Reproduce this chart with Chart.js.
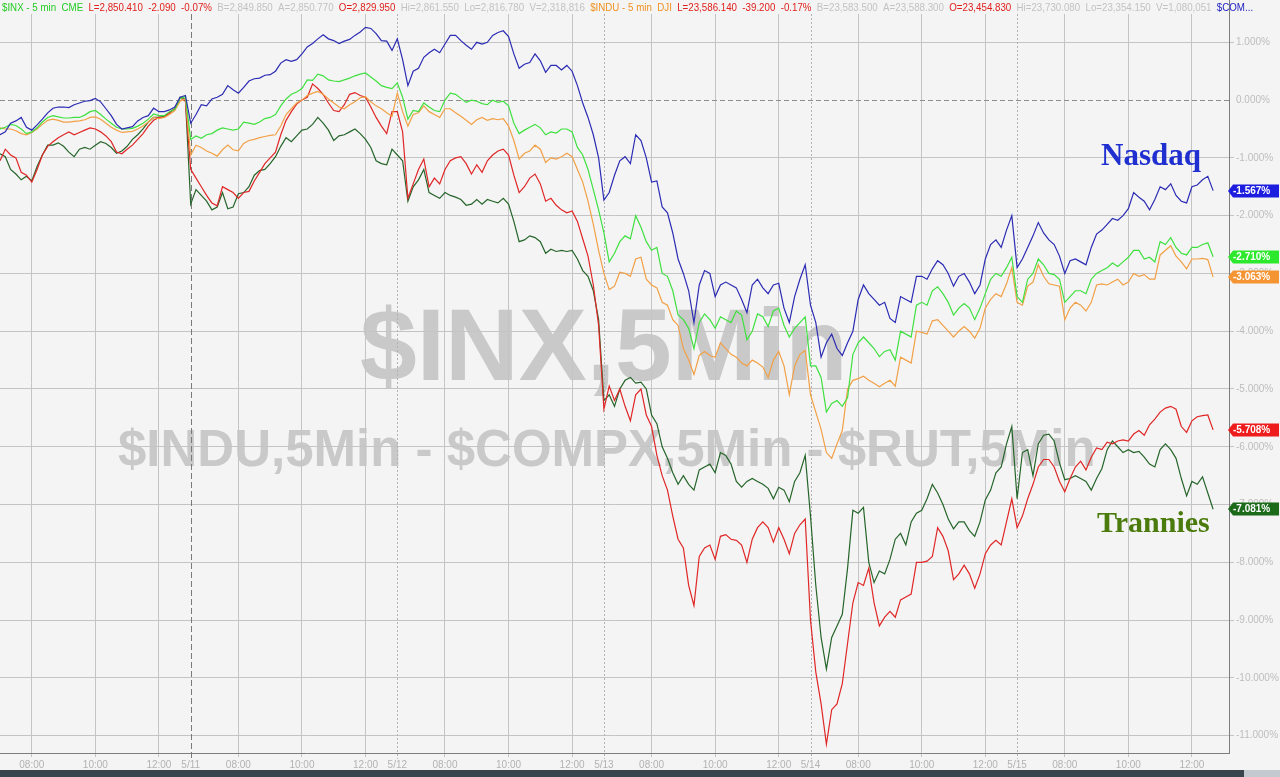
<!DOCTYPE html>
<html>
<head>
<meta charset="utf-8">
<script src="https://cdn.jsdelivr.net/npm/chart.js"></script>
<style>
body{margin:0;background:#f4f4f4;}
#wrap{position:relative;width:1280px;height:777px;overflow:hidden;background:#f4f4f4;font-family:"Liberation Sans",Arial,sans-serif;}
.wm{position:absolute;font-weight:bold;color:#c9c9c9;line-height:1;white-space:nowrap;z-index:0;}
#c{position:absolute;left:0;top:0;z-index:1;}
#hdr{position:absolute;left:2px;top:1px;font-size:11px;white-space:nowrap;z-index:2;transform:scaleX(0.885);transform-origin:0 0;font-family:"Liberation Sans Narrow","Liberation Sans",Arial,sans-serif;}
#hdr span{margin-right:6px}
.g{color:#c2c2c2}.r{color:#e0201c}.gr{color:#22cc22}.o{color:#f0901e}.b{color:#1c1cc0}
.note{position:absolute;font-family:"Liberation Serif","Times New Roman",serif;font-weight:bold;line-height:1;z-index:2;white-space:nowrap;}
#scroll{position:absolute;left:0;top:770px;width:1280px;height:7px;background:#39444d;z-index:2}
#thumb{position:absolute;left:1244px;top:0;width:36px;height:7px;background:#c3c9cf}
</style>
</head>
<body>
<div id="wrap">
  <div class="wm" style="left:360px;top:294px;font-size:102px;">$INX,5Min</div>
  <div class="wm" style="left:118px;top:423px;font-size:51px;">$INDU,5Min - $COMPX,5Min - $RUT,5Min</div>
  <canvas id="c" width="1280" height="777"></canvas>
  <div id="hdr"><span class="gr">$INX - 5 min&nbsp; CME</span><span class="r">L=2,850.410</span><span class="r">-2.090</span><span class="r">-0.07%</span><span class="g">B=2,849.850</span><span class="g">A=2,850.770</span><span class="r">O=2,829.950</span><span class="g">Hi=2,861.550</span><span class="g">Lo=2,816.780</span><span class="g">V=2,318,816</span><span class="o">$INDU - 5 min&nbsp; DJI</span><span class="r">L=23,586.140</span><span class="r">-39.200</span><span class="r">-0.17%</span><span class="g">B=23,583.500</span><span class="g">A=23,588.300</span><span class="r">O=23,454.830</span><span class="g">Hi=23,730.080</span><span class="g">Lo=23,354.150</span><span class="g">V=1,080,051</span><span class="b">$COM...</span></div>
  <div class="note" style="left:1101px;top:139px;font-size:31px;color:#1f2fd0;">Nasdaq</div>
  <div class="note" style="left:1097px;top:507px;font-size:30px;color:#4b7b0c;">Trannies</div>
  <div id="scroll"><div id="thumb"></div></div>
</div>
<script>
// 10 minute bars, Pacific time session
var times = ['06:30','06:40','06:50','07:00','07:10','07:20','07:30','07:40','07:50',
  '08:00','08:10','08:20','08:30','08:40','08:50','09:00','09:10','09:20','09:30','09:40','09:50',
  '10:00','10:10','10:20','10:30','10:40','10:50','11:00','11:10','11:20','11:30','11:40','11:50',
  '12:00','12:10','12:20','12:30','12:40','12:50'];
var days = ['5/8','5/11','5/12','5/13','5/14','5/15'];
var lateTimes = ['13:00','13:10'];
var tickTimes = ['08:00','10:00','12:00'];

// % change, Nasdaq ($COMPX)
var compx = [-0.6,-0.55,-0.4,-0.36,-0.3,-0.47,-0.52,-0.43,-0.33,-0.22,-0.14,-0.12,-0.12,-0.13,-0.08,-0.05,-0.02,-0.01,0.03,-0.03,-0.15,-0.27,-0.42,-0.5,-0.48,-0.46,-0.36,-0.3,-0.27,-0.14,-0.2,-0.2,-0.17,-0.12,0.05,0.08,
  -0.4,-0.25,-0.08,-0.1,0.02,0.05,0.1,0.25,0.18,0.12,0.22,0.33,0.37,0.38,0.43,0.44,0.5,0.64,0.7,0.67,0.7,0.8,0.92,0.98,1.06,1.13,1.06,1.03,0.98,1.02,1.05,1.12,1.18,1.26,1.24,1.15,1.03,1.02,0.86,
  1.06,0.7,0.25,0.5,0.55,0.74,0.82,0.88,0.82,0.97,1.12,1.12,1.03,0.95,0.88,1.0,0.97,1.0,1.12,1.17,1.2,1.1,0.8,0.55,0.62,0.65,0.8,0.68,0.48,0.6,0.6,0.52,0.6,0.5,0.25,-0.05,-0.3,-0.6,-1.0,
  -1.73,-1.6,-1.3,-1.05,-0.98,-1.1,-0.6,-0.7,-1.0,-1.42,-1.4,-1.85,-1.95,-2.3,-2.75,-3.0,-3.3,-3.85,-3.2,-2.95,-3.0,-3.4,-3.2,-3.15,-3.2,-3.25,-3.45,-3.68,-3.2,-3.1,-3.25,-3.35,-3.2,-3.17,-3.6,-3.85,-3.4,-3.1,-2.85,
  -3.55,-3.85,-4.45,-4.2,-4.05,-4.3,-4.42,-4.2,-4.0,-3.45,-3.2,-3.35,-3.45,-3.55,-3.5,-3.78,-3.85,-3.4,-3.45,-3.5,-3.05,-3.05,-3.1,-2.92,-2.78,-2.85,-3.0,-3.22,-3.05,-3.0,-3.15,-3.35,-3.2,-2.75,-2.5,-2.42,-2.55,-2.25,-2.0,
  -2.9,-2.75,-2.55,-2.35,-2.12,-2.3,-2.42,-2.5,-2.7,-3.0,-2.78,-2.75,-2.8,-2.85,-2.55,-2.32,-2.25,-2.15,-2.05,-2.08,-2.0,-1.88,-1.6,-1.68,-1.75,-1.9,-1.72,-1.5,-1.55,-1.45,-1.65,-1.75,-1.78,-1.5,-1.47,-1.38,-1.32,-1.567];

// S&P 500 ($INX)
var inx = [-0.5,-0.47,-0.42,-0.44,-0.5,-0.58,-0.55,-0.48,-0.38,-0.3,-0.27,-0.29,-0.31,-0.31,-0.3,-0.3,-0.26,-0.2,-0.18,-0.25,-0.33,-0.4,-0.47,-0.5,-0.5,-0.49,-0.45,-0.4,-0.33,-0.24,-0.27,-0.27,-0.2,-0.16,0.03,0.06,
  -0.68,-0.62,-0.66,-0.6,-0.58,-0.52,-0.48,-0.5,-0.52,-0.5,-0.38,-0.4,-0.42,-0.38,-0.32,-0.3,-0.25,-0.1,0.02,0.1,0.14,0.2,0.35,0.34,0.45,0.42,0.35,0.33,0.32,0.35,0.38,0.42,0.45,0.47,0.4,0.33,0.25,0.22,0.2,
  0.3,0.05,-0.33,-0.18,-0.2,-0.05,-0.12,-0.18,-0.2,0.0,0.12,0.1,0.03,-0.04,0.0,-0.02,-0.06,-0.08,0.0,-0.04,-0.02,-0.1,-0.4,-0.58,-0.52,-0.47,-0.42,-0.48,-0.6,-0.55,-0.57,-0.5,-0.5,-0.55,-0.82,-0.95,-1.2,-1.55,-1.9,
  -2.3,-2.8,-2.65,-2.45,-2.35,-2.4,-2.0,-2.2,-2.45,-2.6,-2.55,-3.0,-3.05,-3.3,-3.72,-3.8,-3.95,-4.3,-3.85,-3.7,-3.8,-3.95,-3.75,-3.8,-3.85,-3.65,-3.72,-4.15,-4.0,-3.7,-3.75,-3.92,-3.65,-3.6,-3.9,-4.1,-3.95,-3.85,-3.75,
  -4.6,-4.6,-4.8,-5.4,-5.25,-5.2,-5.3,-5.15,-4.4,-4.2,-4.1,-4.2,-4.3,-4.44,-4.35,-4.32,-4.5,-4.0,-4.05,-4.1,-3.55,-3.5,-3.55,-3.3,-3.23,-3.35,-3.5,-3.72,-3.6,-3.52,-3.6,-3.8,-3.6,-3.35,-3.1,-3.0,-3.05,-2.9,-2.72,
  -3.4,-3.5,-3.1,-3.0,-2.75,-2.85,-3.0,-3.02,-3.1,-3.5,-3.4,-3.3,-3.3,-3.35,-3.1,-3.0,-2.95,-2.9,-2.82,-2.88,-2.8,-2.72,-2.6,-2.6,-2.75,-2.72,-2.8,-2.45,-2.5,-2.38,-2.55,-2.65,-2.68,-2.55,-2.55,-2.5,-2.47,-2.71];

// Dow ($INDU)
var indu = [-0.48,-0.5,-0.5,-0.53,-0.58,-0.6,-0.56,-0.5,-0.42,-0.35,-0.33,-0.35,-0.38,-0.38,-0.37,-0.36,-0.34,-0.3,-0.29,-0.33,-0.4,-0.47,-0.52,-0.56,-0.55,-0.54,-0.5,-0.45,-0.38,-0.3,-0.32,-0.3,-0.25,-0.18,-0.02,0.03,
  -0.95,-0.78,-0.82,-0.88,-0.92,-0.97,-0.86,-0.78,-0.86,-0.88,-0.75,-0.7,-0.68,-0.65,-0.63,-0.61,-0.6,-0.45,-0.25,-0.15,-0.05,0.0,0.08,0.12,0.15,0.1,0.02,-0.05,-0.12,-0.15,-0.08,-0.03,0.04,0.06,-0.03,-0.1,-0.15,-0.22,-0.28,
  0.12,-0.2,-0.45,-0.25,-0.22,-0.1,-0.2,-0.25,-0.3,-0.15,-0.15,-0.22,-0.28,-0.35,-0.42,-0.34,-0.3,-0.35,-0.32,-0.34,-0.32,-0.45,-0.7,-1.02,-0.92,-0.88,-0.78,-0.85,-1.08,-1.0,-1.02,-0.98,-0.92,-0.98,-1.2,-1.42,-1.75,-2.15,-2.6,
  -3.0,-3.28,-3.22,-2.98,-3.0,-3.05,-2.75,-2.72,-3.1,-3.2,-3.25,-3.5,-3.55,-3.8,-3.9,-4.3,-4.5,-4.75,-4.42,-4.35,-4.42,-4.45,-4.2,-4.3,-4.4,-4.45,-4.55,-4.6,-4.5,-4.55,-4.62,-4.8,-4.5,-4.35,-4.6,-5.1,-4.6,-4.4,-4.33,
  -5.1,-5.4,-5.7,-6.1,-6.2,-5.95,-5.72,-5.0,-4.85,-4.82,-4.78,-4.85,-4.9,-4.96,-4.9,-4.85,-4.95,-4.45,-4.5,-4.55,-4.0,-4.02,-4.05,-3.82,-3.8,-3.9,-4.0,-4.1,-4.0,-3.92,-4.0,-4.12,-3.95,-3.6,-3.45,-3.35,-3.4,-3.18,-2.9,
  -3.5,-3.55,-3.22,-3.15,-2.85,-3.05,-3.18,-3.2,-3.22,-3.8,-3.6,-3.5,-3.55,-3.65,-3.5,-3.2,-3.18,-3.2,-3.15,-3.1,-3.2,-3.15,-3.0,-3.05,-3.02,-3.1,-3.1,-2.68,-2.6,-2.52,-2.7,-2.8,-2.92,-2.75,-2.75,-2.74,-2.76,-3.063];

// Russell 2000 ($RUT)
var rut = [-1.05,-0.85,-0.95,-1.0,-1.25,-1.3,-1.42,-1.2,-0.95,-0.8,-0.72,-0.65,-0.6,-0.55,-0.6,-0.56,-0.52,-0.48,-0.5,-0.55,-0.62,-0.72,-0.9,-0.93,-0.85,-0.78,-0.68,-0.58,-0.45,-0.35,-0.3,-0.3,-0.22,-0.15,0.04,-0.02,
  -1.2,-1.35,-1.5,-1.65,-1.78,-1.83,-1.5,-1.55,-1.6,-1.7,-1.6,-1.58,-1.4,-1.25,-1.1,-1.0,-0.9,-0.6,-0.35,-0.2,-0.07,0.0,0.05,0.28,0.2,0.1,-0.05,-0.18,-0.2,-0.08,0.1,0.13,0.08,0.05,-0.12,-0.3,-0.45,-0.58,-0.2,
  -0.2,-0.55,-1.7,-1.45,-1.2,-1.02,-1.5,-1.35,-1.45,-1.2,-1.05,-1.0,-0.98,-1.1,-1.28,-1.12,-1.25,-1.05,-0.95,-0.88,-0.85,-0.95,-1.3,-1.6,-1.5,-1.35,-1.28,-1.45,-1.75,-1.7,-1.82,-1.9,-1.95,-1.92,-2.1,-2.4,-2.7,-3.2,-3.9,
  -5.35,-4.95,-5.2,-5.0,-5.3,-5.55,-5.1,-5.0,-5.45,-5.65,-6.15,-6.5,-6.75,-7.2,-7.6,-7.75,-8.4,-8.75,-7.9,-7.75,-7.7,-7.95,-7.55,-7.52,-7.6,-7.62,-7.7,-8.0,-7.6,-7.4,-7.3,-7.4,-7.65,-7.4,-7.6,-7.85,-7.5,-7.35,-7.25,
  -9.0,-9.9,-10.45,-11.15,-10.55,-10.45,-10.1,-9.4,-8.7,-8.35,-8.4,-8.1,-8.7,-9.1,-8.95,-8.85,-8.95,-8.65,-8.6,-8.55,-8.0,-8.0,-7.98,-7.9,-7.4,-7.55,-7.8,-8.3,-8.2,-8.05,-8.2,-8.45,-8.2,-7.85,-7.7,-7.62,-7.7,-7.3,-6.9,
  -7.4,-7.2,-6.9,-6.65,-6.35,-6.22,-6.22,-6.35,-6.6,-6.78,-6.55,-6.35,-6.25,-6.4,-6.18,-6.02,-6.05,-5.92,-5.95,-5.9,-5.88,-5.9,-5.78,-5.72,-5.8,-5.62,-5.52,-5.4,-5.33,-5.3,-5.35,-5.65,-5.75,-5.55,-5.48,-5.46,-5.45,-5.708];

// Transports ($TRAN)
var tran = [-0.93,-0.98,-1.2,-1.28,-1.38,-1.32,-1.4,-1.15,-0.95,-0.78,-0.78,-0.74,-0.8,-0.9,-0.98,-0.85,-0.82,-0.85,-0.78,-0.72,-0.75,-0.82,-0.92,-0.88,-0.8,-0.68,-0.6,-0.5,-0.38,-0.3,-0.3,-0.28,-0.22,-0.15,0.05,0.02,
  -1.8,-1.55,-1.65,-1.75,-1.9,-1.85,-1.6,-1.88,-1.85,-1.62,-1.6,-1.5,-1.3,-1.22,-1.2,-1.1,-0.98,-0.8,-0.65,-0.72,-0.62,-0.52,-0.5,-0.42,-0.3,-0.4,-0.52,-0.7,-0.62,-0.6,-0.55,-0.5,-0.58,-0.68,-0.82,-1.05,-1.1,-1.12,-0.85,
  -0.95,-1.05,-1.75,-1.5,-1.38,-1.2,-1.6,-1.65,-1.7,-1.6,-1.65,-1.68,-1.72,-1.82,-1.8,-1.72,-1.8,-1.72,-1.75,-1.78,-1.7,-1.8,-2.1,-2.45,-2.42,-2.35,-2.38,-2.45,-2.65,-2.58,-2.62,-2.6,-2.62,-2.6,-2.75,-2.95,-3.05,-3.3,-3.8,
  -5.2,-5.1,-5.3,-5.0,-4.85,-4.8,-4.9,-4.88,-5.0,-5.45,-5.6,-6.0,-6.2,-6.45,-6.65,-6.5,-6.65,-6.75,-6.4,-6.35,-6.3,-6.45,-6.1,-6.15,-6.3,-6.6,-6.7,-6.6,-6.55,-6.6,-6.65,-6.72,-6.9,-6.7,-6.75,-6.95,-6.6,-6.45,-6.15,
  -7.2,-8.4,-9.3,-9.85,-9.3,-9.1,-8.9,-8.1,-7.1,-7.15,-7.05,-8.0,-8.35,-8.15,-8.2,-7.95,-7.6,-7.5,-7.7,-7.3,-7.15,-7.1,-6.9,-6.65,-6.8,-7.0,-7.25,-7.42,-7.3,-7.3,-7.45,-7.55,-7.3,-6.92,-6.75,-6.45,-6.35,-5.95,-5.65,
  -6.9,-6.1,-6.05,-6.5,-5.95,-5.8,-5.78,-5.9,-6.28,-6.57,-6.55,-6.5,-6.55,-6.6,-6.75,-6.55,-6.38,-6.05,-5.9,-6.0,-6.1,-6.05,-6.1,-6.08,-6.18,-6.3,-6.35,-6.05,-5.95,-6.05,-6.2,-6.55,-6.85,-6.6,-6.65,-6.52,-6.8,-7.081];

var lineColors = ['#2b2bb4', '#3fe03f', '#f2a046', '#e02626', '#25652a'];
var boxColors  = ['#1d1de0', '#2ee82e', '#f59433', '#ee1c1c', '#1b6b1b'];

var xLabels = [];
days.forEach(function(d, k){
  var t = times;
  if (k === 0) t = times.slice(3);
  if (k === days.length - 1) t = times.concat(lateTimes);
  t.forEach(function(s){ xLabels.push(d + ' ' + s); });
});

var dayIdx = [];
xLabels.forEach(function(l, i){ if (l.split(' ')[1] === '06:30') dayIdx.push(i); });

function wantedTick(i){
  var t = xLabels[i].split(' ')[1];
  return t === '06:30' || tickTimes.indexOf(t) >= 0;
}

var decor = {
  id: 'decor',
  beforeDatasetsDraw: function(chart){
    var ctx = chart.ctx, a = chart.chartArea, xs = chart.scales.x, ys = chart.scales.y;
    ctx.save();
    ctx.lineWidth = 1;
    var y0 = Math.round(ys.getPixelForValue(0)) + 0.5;
    ctx.strokeStyle = '#8e8e8e';
    ctx.setLineDash([5, 3]);
    ctx.beginPath(); ctx.moveTo(a.left, y0); ctx.lineTo(a.right, y0); ctx.stroke();
    dayIdx.forEach(function(i, k){
      var px = Math.round(xs.getPixelForValue(i)) + 0.5;
      if (k === 0) { ctx.strokeStyle = '#7a7a7a'; ctx.setLineDash([6, 3]); }
      else { ctx.strokeStyle = '#b2b2b2'; ctx.setLineDash([2, 2]); }
      ctx.beginPath(); ctx.moveTo(px, a.top); ctx.lineTo(px, a.bottom + 6); ctx.stroke();
    });
    ctx.restore();
  },
  afterDatasetsDraw: function(chart){
    var ctx = chart.ctx, a = chart.chartArea, ys = chart.scales.y;
    ctx.save();
    // axis line runs up to the top edge
    ctx.strokeStyle = '#7d7d7d'; ctx.lineWidth = 1;
    ctx.beginPath(); ctx.moveTo(a.right + 0.5, 0); ctx.lineTo(a.right + 0.5, a.top); ctx.stroke();
    chart.data.datasets.forEach(function(ds, k){
      var v = ds.data[ds.data.length - 1];
      var y = Math.round(ys.getPixelForValue(v));
      var l = a.right - 1, r = 1279, h = 6.5;
      ctx.fillStyle = boxColors[k];
      ctx.beginPath();
      ctx.moveTo(l, y);
      ctx.lineTo(l + 5, y - h);
      ctx.lineTo(r, y - h);
      ctx.lineTo(r, y + h);
      ctx.lineTo(l + 5, y + h);
      ctx.closePath();
      ctx.fill();
      ctx.fillStyle = '#ffffff';
      ctx.font = 'bold 10px "Liberation Sans", Arial, sans-serif';
      ctx.textBaseline = 'middle';
      ctx.textAlign = 'left';
      ctx.fillText(v.toFixed(3) + '%', l + 5, y + 0.5);
    });
    ctx.restore();
  }
};

Chart.defaults.font.family = '"Liberation Sans", Arial, sans-serif';

var mk = function(data, k){
  return { data: data, borderColor: lineColors[k], borderWidth: 1.2, pointRadius: 0, tension: 0, fill: false };
};

new Chart(document.getElementById('c').getContext('2d'), {
  type: 'line',
  data: {
    labels: xLabels,
    datasets: [mk(compx, 0), mk(inx, 1), mk(indu, 2), mk(rut, 3), mk(tran, 4)]
  },
  options: {
    responsive: false,
    animation: false,
    devicePixelRatio: 1,
    layout: { padding: { top: 14, left: 0, right: 0, bottom: 0 } },
    plugins: { legend: { display: false }, tooltip: { enabled: false } },
    scales: {
      x: {
        type: 'category',
        offset: false,
        grid: {
          color: function(c){ return (c.tick && dayIdx.indexOf(c.tick.value) >= 0) ? 'rgba(0,0,0,0)' : '#c4c4c4'; },
          tickLength: 4
        },
        border: { color: '#7d7d7d' },
        ticks: {
          autoSkip: false, maxRotation: 0, minRotation: 0, padding: 2,
          color: '#b2b2b2', font: { size: 10 },
          callback: function(val){
            var p = xLabels[val].split(' ');
            return p[1] === '06:30' ? p[0] : p[1];
          }
        },
        afterBuildTicks: function(s){ s.ticks = s.ticks.filter(function(t){ return wantedTick(t.value); }); },
        afterFit: function(s){ s.height = 24; }
      },
      y: {
        position: 'right',
        min: -11.3,
        max: 1.49,
        grid: {
          color: function(c){ return (c.tick && Math.abs(c.tick.value) < 1e-6) ? 'rgba(0,0,0,0)' : '#c4c4c4'; },
          tickLength: 5
        },
        border: { color: '#7d7d7d' },
        ticks: {
          stepSize: 1, padding: 2, color: '#bdbdbd', font: { size: 10 },
          callback: function(v){ return (Math.round(v * 1000) / 1000 + 0).toFixed(3) + '%'; }
        },
        afterBuildTicks: function(s){ s.ticks = s.ticks.filter(function(t){ return Math.abs(t.value - Math.round(t.value)) < 1e-6; }); },
        afterFit: function(s){ s.width = 51; }
      }
    }
  },
  plugins: [decor]
});
</script>
</body>
</html>
